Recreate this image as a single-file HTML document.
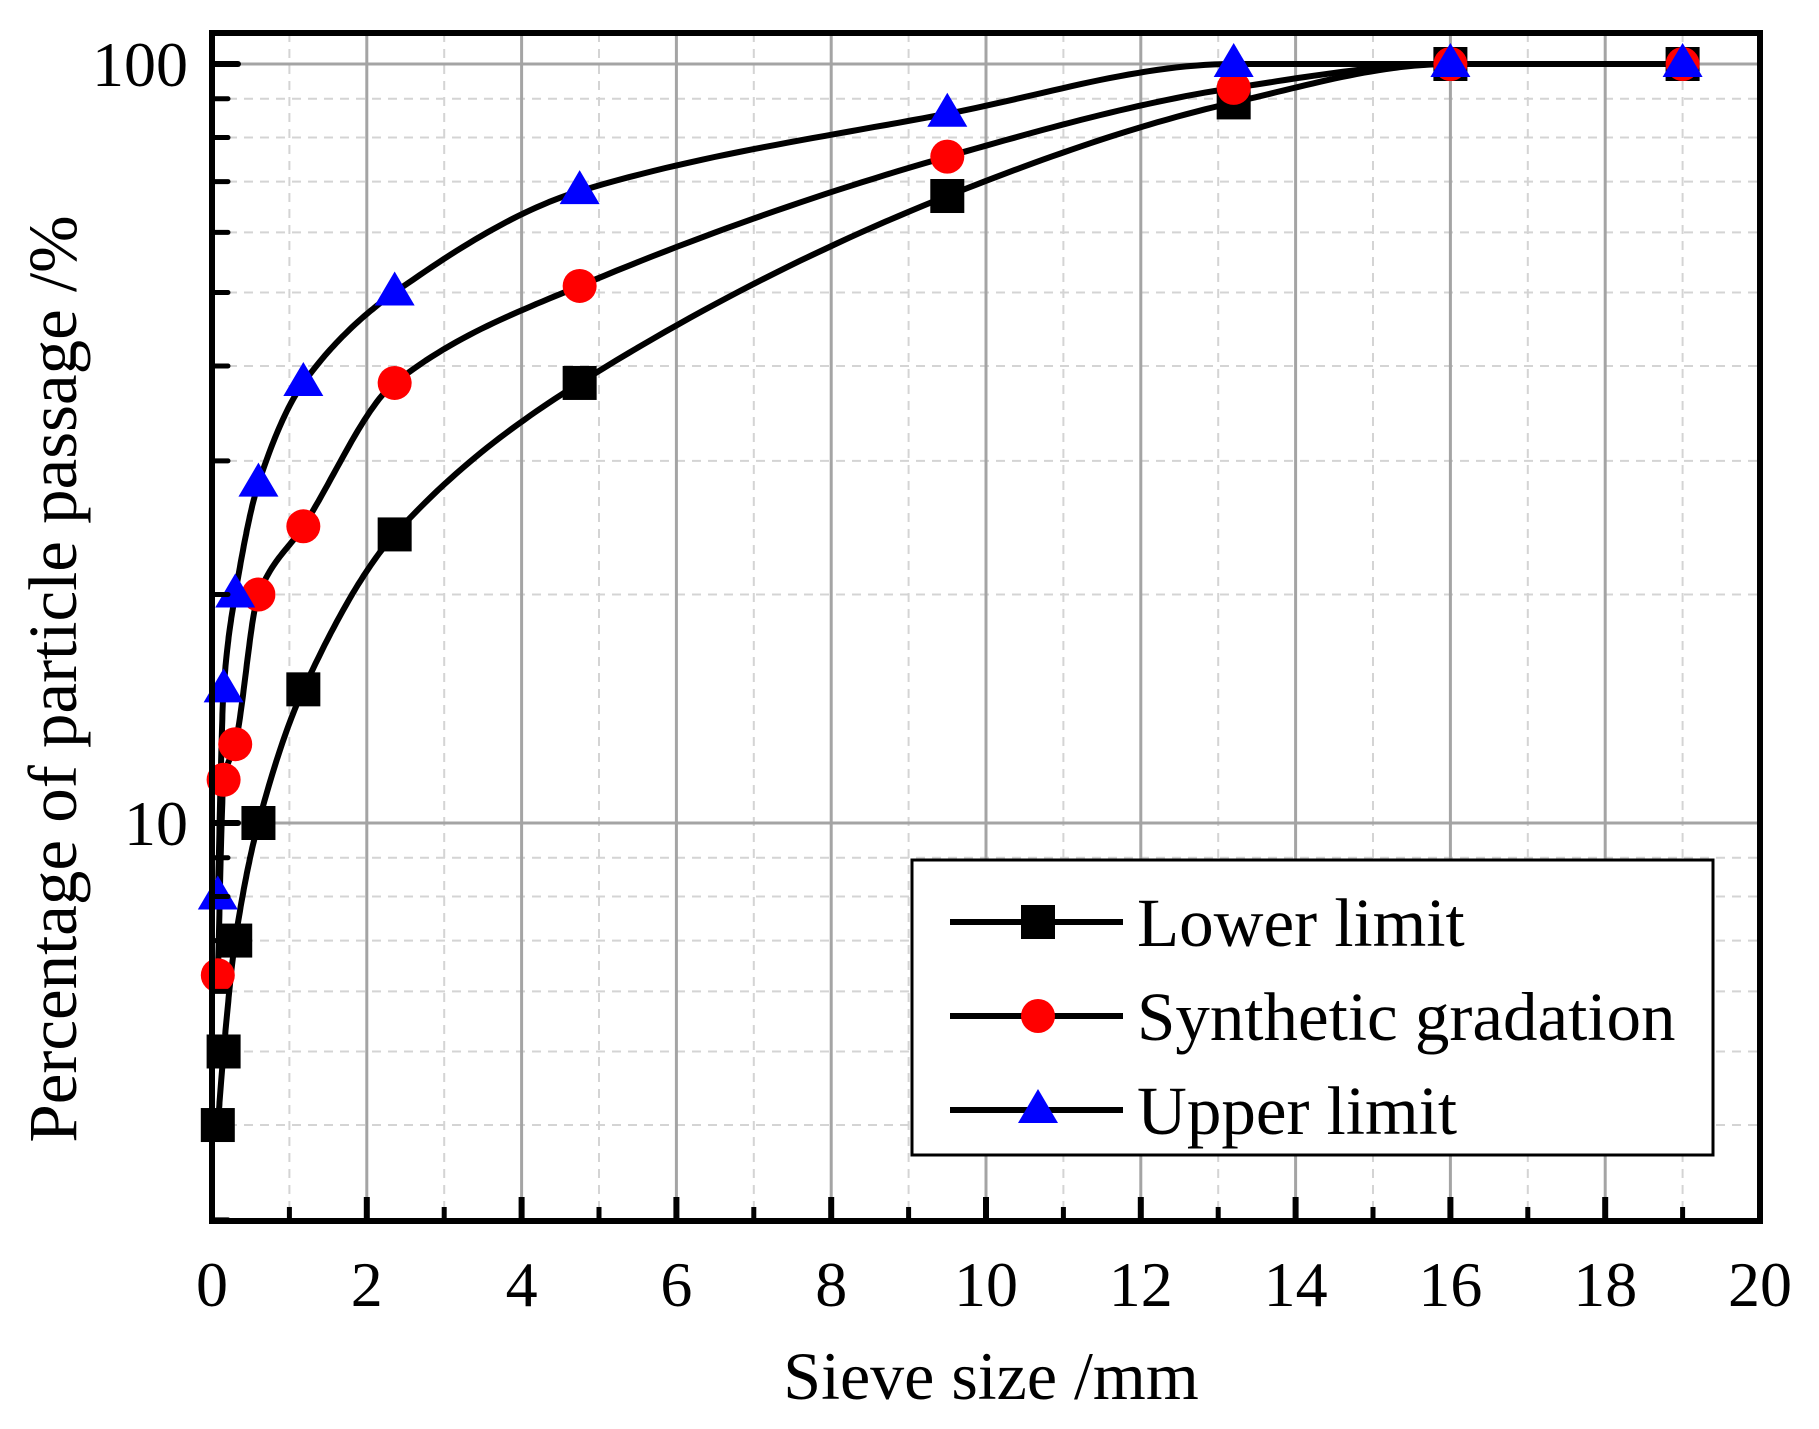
<!DOCTYPE html>
<html><head><meta charset="utf-8"><style>
html,body{margin:0;padding:0;background:#fff;}
svg{display:block;font-family:"Liberation Serif",serif;}
</style></head><body>
<svg id="chart" width="1819" height="1429" viewBox="0 0 1819 1429" xmlns="http://www.w3.org/2000/svg">
<g id="grid"></g>
<g id="series"></g>
<g id="axes"></g>
<text x="0" y="0" transform="translate(76,679) rotate(-90)" text-anchor="middle" font-size="69">Percentage of particle passage /%</text>
<text x="991" y="1399" text-anchor="middle" font-size="68">Sieve size /mm</text>
<g transform="translate(-6,-8)">
<rect x="918" y="868" width="801" height="295" fill="#fff" stroke="#000" stroke-width="3"/>
<g>
<line x1="956" y1="930" x2="1129" y2="930" stroke="#000" stroke-width="6"/>
<rect x="1027" y="913" width="34" height="34" fill="#000"/>
<text x="1143" y="954" font-size="69">Lower limit</text></g>
<g>
<line x1="956" y1="1024" x2="1129" y2="1024" stroke="#000" stroke-width="6"/>
<circle cx="1044" cy="1024" r="17" fill="#f00"/>
<text x="1143" y="1048" font-size="69">Synthetic gradation</text></g>
<g>
<line x1="956" y1="1118" x2="1129" y2="1118" stroke="#000" stroke-width="6"/>
<polygon points="1044,1097 1064,1131 1024,1131" fill="#00f"/>
<text x="1143" y="1142" font-size="69">Upper limit</text></g>
</g>
</svg>
<script>
const sieves=[0.075,0.15,0.3,0.6,1.18,2.36,4.75,9.5,13.2,16,19];
const lowerVals=[4,5,7,10,15,24,38,67,89,100,100];
const synthVals=[6.3,11.4,12.7,20,24.6,38,51,75.5,93,100,100];
const upperVals=[8,15,20,28,38,50,68,86,100,100,100];
const xTicks=[0,2,4,6,8,10,12,14,16,18,20];
const yTicks=[10,100];

const NS="http://www.w3.org/2000/svg";
const L=212,R=1760,T=33,B=1221,Y100=64,Y10=823;
const dec=Y10-Y100;
const X=v=>L+(v/20)*(R-L);
const Y=v=>Y100+(2-Math.log10(v))*dec;
function mk(tag,attrs,parent){const e=document.createElementNS(NS,tag);for(const k in attrs)e.setAttribute(k,attrs[k]);parent.appendChild(e);return e;}
const grid=document.getElementById('grid'),axes=document.getElementById('axes'),ser=document.getElementById('series');

for(let i=1;i<20;i+=2){
 const g=mk('line',{x1:X(i),x2:X(i),y1:T,y2:B,stroke:'#d4d4d4','stroke-width':2,'stroke-dasharray':'9,7'},grid);
 
}
const minorY=[];for(let d of [1,10])for(let k=2;k<=9;k++){const v=d*k;if(v>=3&&v<110&&v!==10)minorY.push(v);}
minorY.forEach(v=>{
 const g=mk('line',{x1:L,x2:R,y1:Y(v),y2:Y(v),stroke:'#d4d4d4','stroke-width':2,'stroke-dasharray':'9,7'},grid);
 
 const t=mk('line',{x1:L,x2:L+16,y1:Y(v),y2:Y(v),stroke:'#000','stroke-width':5,'stroke-linecap':'round'},axes);
 
});
xTicks.forEach(v=>{
 if(v>0&&v<20){const g=mk('line',{x1:X(v),x2:X(v),y1:T,y2:B,stroke:'#a4a4a4','stroke-width':3},grid);
 }
 const t=mk('line',{x1:X(v),x2:X(v),y1:B,y2:B-24,stroke:'#000','stroke-width':6},axes);
 
 const lb=mk('text',{x:X(v),y:1306,'text-anchor':'middle','font-size':64},axes);lb.textContent=v;
 
});
for(let i=1;i<20;i+=2){const t=mk('line',{x1:X(i),x2:X(i),y1:B,y2:B-14,stroke:'#000','stroke-width':5},axes);
 }
yTicks.forEach(v=>{
 const g=mk('line',{x1:L,x2:R,y1:Y(v),y2:Y(v),stroke:'#a4a4a4','stroke-width':3},grid);
 
 const t=mk('line',{x1:L,x2:L+26,y1:Y(v),y2:Y(v),stroke:'#000','stroke-width':6,'stroke-linecap':'round'},axes);
 
 const lb=mk('text',{x:L-24,y:Y(v)+22,'text-anchor':'end','font-size':64},axes);lb.textContent=v;
 
});
const fr=mk('rect',{x:L,y:T,width:R-L,height:B-T,fill:'none',stroke:'#000','stroke-width':6},axes);


function curve(xs,ys){
 const n=xs.length,ly=ys.map(v=>Math.log10(v)),d=[],m=[];
 for(let i=0;i<n-1;i++)d.push((ly[i+1]-ly[i])/(xs[i+1]-xs[i]));
 m[0]=d[0];m[n-1]=d[n-2];
 for(let i=1;i<n-1;i++)m[i]=(d[i-1]*d[i]<=0)?0:2/(1/d[i-1]+1/d[i]);
 let p='';
 for(let i=0;i<n-1;i++){const h=xs[i+1]-xs[i];
  for(let s=0;s<=30;s++){const t=s/30,h00=2*t*t*t-3*t*t+1,h10=t*t*t-2*t*t+t,h01=-2*t*t*t+3*t*t,h11=t*t*t-t*t;
   const v=h00*ly[i]+h10*h*m[i]+h01*ly[i+1]+h11*h*m[i+1];const x=xs[i]+t*h;
   p+=(p?'L':'M')+X(x).toFixed(1)+','+Y(Math.pow(10,v)).toFixed(1);}}
 return p;
}
const defs=[[lowerVals,'lower','sq'],[synthVals,'synthetic','ci'],[upperVals,'upper','tr']];
defs.forEach(([vals,name,shape])=>{
 const pth=mk('path',{d:curve(sieves,vals),fill:'none',stroke:'#000','stroke-width':6,'stroke-linejoin':'round'},ser);
 
});
defs.forEach(([vals,name,shape])=>{
 sieves.forEach((s,i)=>{
  const cx=X(s),cy=Y(vals[i]);let e;
  if(shape==='sq')e=mk('rect',{x:cx-17,y:cy-17,width:34,height:34,fill:'#000'},ser);
  else if(shape==='ci')e=mk('circle',{cx:cx,cy:cy,r:17,fill:'#f00'},ser);
  else e=mk('polygon',{points:`${cx},${cy-21} ${cx+20},${cy+13} ${cx-20},${cy+13}`,fill:'#00f'},ser);
  
  
 });
});
</script>
</body></html>
